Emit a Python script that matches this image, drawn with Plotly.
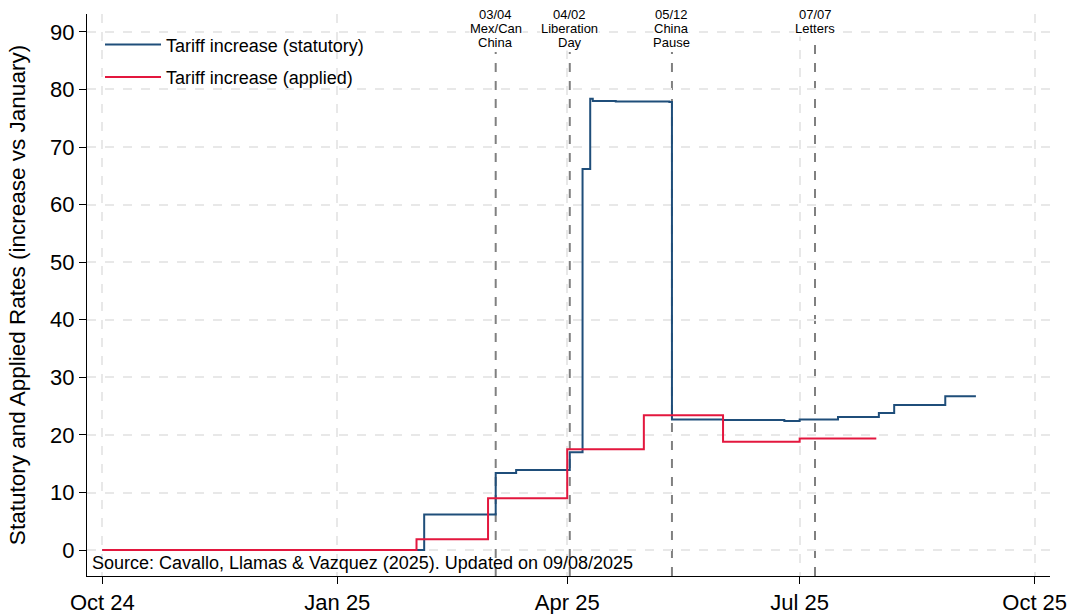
import plotly.graph_objects as go

# Statutory tariff increase (step changes)
stat_dates = ["2024-10-01", "2025-02-04", "2025-03-04", "2025-03-12", "2025-04-02",
              "2025-04-07", "2025-04-10", "2025-04-11", "2025-04-20", "2025-05-11",
              "2025-05-12", "2025-06-01", "2025-06-25", "2025-07-01", "2025-07-16",
              "2025-08-01", "2025-08-07", "2025-08-27", "2025-09-08"]
stat_vals = [0.0, 6.2, 13.4, 13.9, 17.0,
             66.2, 78.4, 78.0, 77.9, 77.8,
             22.7, 22.6, 22.4, 22.7, 23.1,
             23.8, 25.2, 26.7, 26.7]

# Applied tariff increase (monthly steps)
appl_dates = ["2024-10-01", "2025-02-01", "2025-03-01", "2025-04-01", "2025-05-01",
              "2025-06-01", "2025-07-01", "2025-07-31"]
appl_vals = [0.0, 1.9, 9.0, 17.5, 23.4, 18.8, 19.4, 19.4]

# Event markers
event_dates = ["2025-03-04", "2025-04-02", "2025-05-12", "2025-07-07"]
event_labels = [["03/04", "Mex/Can", "China"],
                ["04/02", "Liberation", "Day"],
                ["05/12", "China", "Pause"],
                ["07/07", "Letters"]]

tick_vals = ["2024-10-01", "2025-01-01", "2025-04-01", "2025-07-01", "2025-10-01"]
tick_text = ["Oct 24", "Jan 25", "Apr 25", "Jul 25", "Oct 25"]
y_ticks = [0, 10, 20, 30, 40, 50, 60, 70, 80, 90]

FONT = "Liberation Sans, Arial, Helvetica, sans-serif"
BLUE = "#1f4e7a"
RED = "#e3173e"

fig = go.Figure()
fig.add_trace(go.Scatter(x=stat_dates, y=stat_vals, mode="lines", line_shape="hv",
                         line=dict(color=BLUE, width=2), name="Tariff increase (statutory)",
                         legendgroup="stat"))
fig.add_trace(go.Scatter(x=appl_dates, y=appl_vals, mode="lines", line_shape="hv",
                         line=dict(color=RED, width=2), name="Tariff increase (applied)",
                         legendgroup="appl"))

plot_top_px = 14
plot_bottom_px = 576
h = plot_bottom_px - plot_top_px

for d, lines in zip(event_dates, event_labels):
    top_px = 6 + 14 * len(lines) + 4
    y1 = (plot_bottom_px - top_px) / h
    fig.add_shape(type="line", xref="x", yref="paper", x0=d, x1=d, y0=0, y1=y1,
                  line=dict(color="#808080", width=2, dash="dash"), layer="between")
    for i, t in enumerate(lines):
        fig.add_annotation(x=d, xref="x", yref="paper", y=1, yanchor="middle",
                           yshift=-(14 * i), text=t, showarrow=False,
                           font=dict(family=FONT, size=13, color="black"),
                           bgcolor="white", borderpad=0)

fig.add_annotation(x=0.003, y=0.0, xref="paper", yref="paper", xanchor="left", yanchor="bottom",
                   yshift=1,
                   text="Source: Cavallo, Llamas & Vazquez (2025). Updated on 09/08/2025",
                   showarrow=False, font=dict(family=FONT, size=18, color="black"))

fig.update_layout(
    width=1076, height=614,
    margin=dict(l=87, r=26, t=plot_top_px, b=614 - plot_bottom_px, autoexpand=False),
    paper_bgcolor="white", plot_bgcolor="white",
    font=dict(family=FONT, color="black"),
    showlegend=True,
    legend=dict(x=0.0135, y=0.978, xanchor="left", yanchor="top", bgcolor="rgba(0,0,0,0)",
                font=dict(family=FONT, size=18), itemwidth=56, tracegroupgap=6),
    xaxis=dict(type="date", range=["2024-09-25", "2025-10-07"],
               tickvals=tick_vals, ticktext=tick_text, tickfont=dict(size=22),
               ticks="outside", ticklen=7, tickcolor="black",
               showline=True, linecolor="black", linewidth=1,
               showgrid=True, gridcolor="#e8e8e8", griddash="dash", gridwidth=1.5,
               zeroline=False, automargin=False),
    yaxis=dict(range=[-4.5, 93.1], tickvals=y_ticks, tickfont=dict(size=22),
               ticks="outside", ticklen=7, tickcolor="black",
               showline=True, linecolor="black", linewidth=1,
               showgrid=True, gridcolor="#e8e8e8", griddash="dash", gridwidth=1.5,
               zeroline=False, automargin=False,
               title=dict(text="Statutory and Applied Rates (increase vs January)",
                          font=dict(size=22.5), standoff=18)),
)

fig.write_html("out.html", config={"displayModeBar": False},
               post_script="document.body.style.margin='0';document.body.style.overflow='hidden';")
